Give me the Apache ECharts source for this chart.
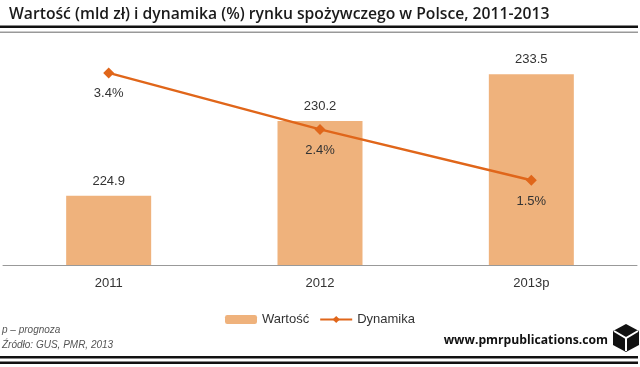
<!DOCTYPE html>
<html><head><meta charset="utf-8">
<script src="https://cdn.jsdelivr.net/npm/echarts@6/dist/echarts.min.js"></script>
<style>html,body{margin:0;padding:0;background:#fff}#c{width:640px;height:367px}</style>
</head><body><div id="c"></div>
<script>
const categories = ['2011', '2012', '2013p'];
const wartosc = [224.9, 230.2, 233.5];
const dynamika = [3.4, 2.4, 1.5];
const titleText = 'Wartość (mld zł) i dynamika (%) rynku spożywczego w Polsce, 2011-2013';
const footNote1 = 'p – prognoza';
const footNote2 = 'Źródło: GUS, PMR, 2013';
const siteText = 'www.pmrpublications.com';

const BAR = '#EFB27C', LINE = '#E0661A', TXT = '#333';
const chart = echarts.init(document.getElementById('c'), null, {renderer: 'canvas'});
chart.setOption({
  animation: false,
  backgroundColor: '#fff',
  title: {text: titleText, left: 4, top: 2,
    textStyle: {fontFamily: 'Open Sans', fontWeight: 600, fontSize: 15.7, color: '#1a1a1a'}},
  grid: {left: 3, right: 3, top: 39, bottom: 102, containLabel: false},
  legend: {
    data: ['Wartość', 'Dynamika'], left: 'center', top: 308, itemWidth: 32, itemHeight: 9, itemGap: 10,
    textStyle: {fontFamily: 'Liberation Sans', fontSize: 13, color: TXT}
  },
  xAxis: {type: 'category', data: categories,
    axisLine: {lineStyle: {color: '#999', width: 1}}, axisTick: {show: false},
    axisLabel: {fontFamily: 'Liberation Sans', fontSize: 13, color: TXT, margin: 12}},
  yAxis: [
    {type: 'value', min: 220, max: 236, show: false, splitLine: {show: false}},
    {type: 'value', min: 0, max: 4, show: false, splitLine: {show: false}}
  ],
  series: [
    {name: 'Wartość', type: 'bar', data: wartosc, barWidth: 85, itemStyle: {color: BAR},
      label: {show: true, position: 'top', distance: 8, fontFamily: 'Liberation Sans', fontSize: 13, color: TXT,
        formatter: p => p.value.toFixed(1)}},
    {name: 'Dynamika', type: 'line', yAxisIndex: 1, data: dynamika, symbol: 'diamond', symbolSize: 11,
      lineStyle: {color: LINE, width: 2.5}, itemStyle: {color: LINE},
      label: {show: true, position: 'bottom', distance: 9, fontFamily: 'Liberation Sans', fontSize: 13, color: TXT,
        formatter: p => p.value.toFixed(1) + '%'}}
  ],
  graphic: [
    {type: 'rect', shape: {x: 0, y: 25.5, width: 638, height: 2.5}, style: {fill: '#111'}},
    {type: 'rect', shape: {x: 0, y: 31.5, width: 638, height: 1.5}, style: {fill: '#999'}},
    {type: 'text', left: 2, top: 325, style: {text: footNote1, font: 'italic 10px "Liberation Sans"', fill: '#555'}},
    {type: 'text', left: 2, top: 340, style: {text: footNote2, font: 'italic 10px "Liberation Sans"', fill: '#555'}},
    {type: 'text', right: 32, top: 335, style: {text: siteText, font: 'bold 12.2px "Open Sans"', fill: '#111'}},
    {type: 'polygon', shape: {points: [[626, 324], [639, 331], [639, 345], [626, 352], [613, 345], [613, 331]]}, style: {fill: '#111'}},
    {type: 'polyline', shape: {points: [[614, 331], [626, 338], [638, 331]]}, style: {stroke: '#fff', lineWidth: 2, fill: null}},
    {type: 'line', shape: {x1: 626, y1: 338, x2: 626, y2: 351}, style: {stroke: '#fff', lineWidth: 2}},
    {type: 'rect', shape: {x: 0, y: 356, width: 638, height: 2.5}, style: {fill: '#111'}},
    {type: 'rect', shape: {x: 0, y: 361.5, width: 638, height: 2.5}, style: {fill: '#111'}}
  ]
});
</script></body></html>
